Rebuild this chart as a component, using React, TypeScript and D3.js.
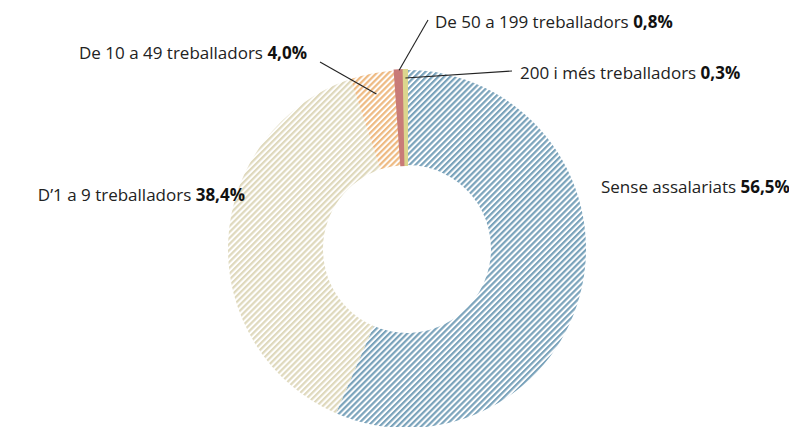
import React, { useEffect, useRef } from 'react';
import * as d3 from 'd3';

// Share of companies by number of employees (%)
const categories = [
  'Sense assalariats',
  'D\u20191 a 9 treballadors',
  'De 10 a 49 treballadors',
  'De 50 a 199 treballadors',
  '200 i més treballadors',
];
const values = [56.5, 38.4, 4.0, 0.8, 0.3];
const valueLabels = ['56,5%', '38,4%', '4,0%', '0,8%', '0,3%'];

const colors = ['#7aa3bb', '#dfd9bd', '#eeba82', '#c97b78', '#dcd68e'];
const hatched = [true, true, true, false, false];

// label layout: [x, baseline y, anchor, leader radius or null]
const labelLayout: [number, number, string, number | null][] = [
  [601, 193, 'start', null],
  [245, 201, 'end', null],
  [307, 59, 'end', 158],
  [435, 28, 'start', 179],
  [520, 79, 'start', 171],
];
const leaderStart: [number, number][] = [
  [0, 0],
  [0, 0],
  [320, 62],
  [428, 20],
  [512, 71],
];

const App = () => {
  const ref = useRef<SVGSVGElement>(null);

  useEffect(() => {
    const width = 789;
    const height = 427;
    const cx = 407;
    const cy = 249;
    const outerR = 179;
    const innerR = 84;

    const svg = d3.select(ref.current);
    svg.selectAll('*').remove();

    // diagonal hatching, one pattern per colour
    const defs = svg.append('defs');
    colors.forEach((c, i) => {
      const p = defs.append('pattern')
        .attr('id', `hatch-${i}`)
        .attr('patternUnits', 'userSpaceOnUse')
        .attr('width', 4.2)
        .attr('height', 4.2)
        .attr('patternTransform', 'rotate(45)');
      p.append('rect')
        .attr('x', 0).attr('y', 0)
        .attr('width', 2.2).attr('height', 4.2)
        .attr('fill', c);
    });

    const pie = d3.pie<number>().sort(null).value(d => d);
    const arcs = pie(values);
    const arc = d3.arc<d3.PieArcDatum<number>>().innerRadius(innerR).outerRadius(outerR);

    const g = svg.append('g').attr('transform', `translate(${cx},${cy})`);

    g.selectAll('path')
      .data(arcs)
      .enter()
      .append('path')
      .attr('d', arc)
      .attr('fill', (d, i) => hatched[i] ? `url(#hatch-${i})` : colors[i])
      .attr('stroke', (d, i) => hatched[i] ? 'none' : colors[i])
      .attr('stroke-width', 2);

    // leader lines
    arcs.forEach((a, i) => {
      const r = labelLayout[i][3];
      if (r == null) return;
      const mid = (a.startAngle + a.endAngle) / 2;
      const ex = cx + Math.sin(mid) * r;
      const ey = cy - Math.cos(mid) * r;
      svg.append('line')
        .attr('x1', leaderStart[i][0]).attr('y1', leaderStart[i][1])
        .attr('x2', ex).attr('y2', ey)
        .attr('stroke', '#222')
        .attr('stroke-width', 1.1);
    });

    // labels
    categories.forEach((name, i) => {
      const [x, y, anchor] = labelLayout[i];
      const t = svg.append('text')
        .attr('x', x)
        .attr('y', y)
        .attr('text-anchor', anchor)
        .style('font-family', '"Open Sans", sans-serif')
        .style('font-size', '17px')
        .attr('fill', '#222');
      t.append('tspan').text(name + ' ');
      t.append('tspan').style('font-weight', 'bold').attr('fill', '#111').text(valueLabels[i]);
    });

    svg.attr('width', width).attr('height', height);
  }, []);

  return (
    <svg ref={ref} width={789} height={427}
      style={{ position: 'absolute', left: 0, top: 0, background: '#fff' }} />
  );
};

export default App;
